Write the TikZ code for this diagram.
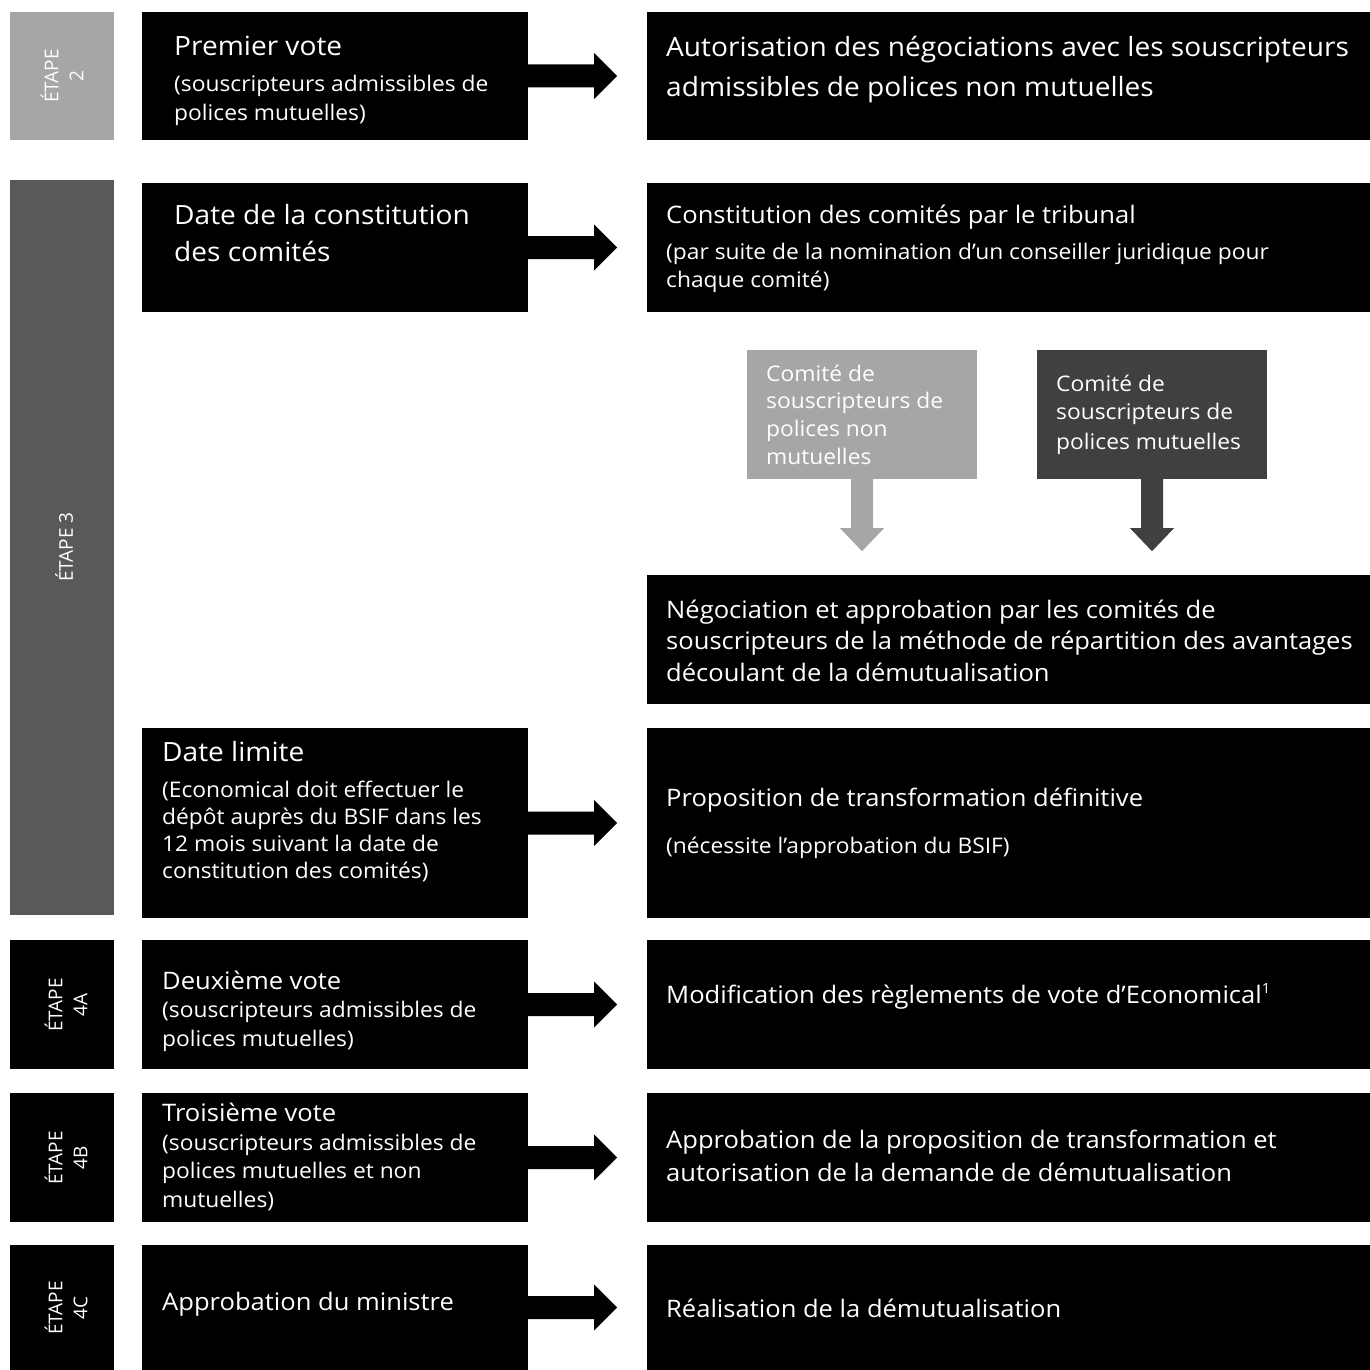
\documentclass[tikz,border=0pt]{standalone}
\usepackage{fontspec}
\setmainfont{Open Sans}
\newfontfamily\widefont[FakeStretch=1.06]{Open Sans}
\usetikzlibrary{calc}
\definecolor{lgray}{HTML}{A6A6A6}
\definecolor{mgray}{HTML}{595959}
\definecolor{dgray}{HTML}{404040}
\tikzset{
  box/.style={fill=black, draw=none, inner sep=0pt},
  lab/.style={text=white, inner sep=0pt, anchor=base west},
  T/.style={lab, font=\widefont\fontsize{26.5}{30}\selectfont},
  M/.style={lab, font=\widefont\fontsize{24.1}{28}\selectfont},
  S/.style={lab, font=\widefont\fontsize{21.5}{26}\selectfont},
  stage/.style={text=white, rotate=90, align=center, font=\fontsize{19}{25}\selectfont, inner sep=0pt},
}
\newcommand{\rarrow}[1]{\fill[black] ($(#1.east)+(0,11.5)$) -- ++(66,0) -- ++(0,11.5) -- ++(23,-23) -- ++(-23,-23) -- ++(0,11.5) -- ++(-66,0) -- cycle;}
\newcommand{\darrow}[2]{\fill[#2] ($(#1.south)+(-11,0)$) -- ++(0,49) -- ++(-11,0) -- ++(22,23) -- ++(22,-23) -- ++(-11,0) -- ++(0,-49) -- cycle;}
\begin{document}
\begin{tikzpicture}[x=1pt,y=-1pt]
\useasboundingbox (0,0) rectangle (1370,1370);
% stage labels
\fill[lgray] (10,12) rectangle (114,140);
\node[stage] (s2) at (62,76) {ÉTAPE\\2};
\fill[mgray] (10,180) rectangle (114,915);
\node[stage] (s3) at (64,547) {ÉTAPE 3};
\fill[black] (10,940) rectangle (114,1069);
\node[stage] (s4a) at (66,1005) {ÉTAPE\\4A};
\fill[black] (10,1093) rectangle (114,1222);
\node[stage] (s4b) at (66,1158) {ÉTAPE\\4B};
\fill[black] (10,1245) rectangle (114,1370);
\node[stage] (s4c) at (66,1308) {ÉTAPE\\4C};
% boxes
\node[box, minimum width=386pt, minimum height=128pt] (L1) at (335,76) {};
\node[box, minimum width=723pt, minimum height=128pt] (R1) at (1008.5,76) {};
\node[box, minimum width=386pt, minimum height=129pt] (L2) at (335,247.5) {};
\node[box, minimum width=723pt, minimum height=129pt] (R2) at (1008.5,247.5) {};
\node[box, fill=lgray, minimum width=230pt, minimum height=129pt] (C1) at (862,414.5) {};
\node[box, fill=dgray, minimum width=230pt, minimum height=129pt] (C2) at (1152,414.5) {};
\node[box, minimum width=723pt, minimum height=129pt] (R3) at (1008.5,639.5) {};
\node[box, minimum width=386pt, minimum height=190pt] (L4) at (335,823) {};
\node[box, minimum width=723pt, minimum height=190pt] (R4) at (1008.5,823) {};
\node[box, minimum width=386pt, minimum height=129pt] (L5) at (335,1004.5) {};
\node[box, minimum width=723pt, minimum height=129pt] (R5) at (1008.5,1004.5) {};
\node[box, minimum width=386pt, minimum height=129pt] (L6) at (335,1157.5) {};
\node[box, minimum width=723pt, minimum height=129pt] (R6) at (1008.5,1157.5) {};
\node[box, minimum width=386pt, minimum height=125pt] (L7) at (335,1307.5) {};
\node[box, minimum width=723pt, minimum height=125pt] (R7) at (1008.5,1307.5) {};
% arrows
\rarrow{L1}\rarrow{L2}\rarrow{L4}\rarrow{L5}\rarrow{L6}\rarrow{L7}
\darrow{C1}{lgray}\darrow{C2}{dgray}
% texts row 1
\node[T] (t1a) at (174,56) {Premier vote};
\node[S] (t1b) at (174,92) {(souscripteurs admissibles de};
\node[S] (t1c) at (174,121) {polices mutuelles)};
\node[T] (u1a) at (666,57) {Autorisation des négociations avec les souscripteurs};
\node[T] (u1b) at (666,97) {admissibles de polices non mutuelles};
% row 2
\node[T] (t2a) at (174,224) {Date de la constitution};
\node[T] (t2b) at (174,261) {des comités};
\node[M] (u2a) at (666,223) {Constitution des comités par le tribunal};
\node[S] (u2b) at (666,259) {(par suite de la nomination d’un conseiller juridique pour};
\node[S] (u2c) at (666,287) {chaque comité)};
% committees
\node[S] (c1a) at (766,381) {Comité de};
\node[S] (c1b) at (766,408) {souscripteurs de};
\node[S] (c1c) at (766,436) {polices non};
\node[S] (c1d) at (766,464) {mutuelles};
\node[S] (c2a) at (1056,391) {Comité de};
\node[S] (c2b) at (1056,419) {souscripteurs de};
\node[S] (c2c) at (1056,449) {polices mutuelles};
% negotiation
\node[M] (u3a) at (666,618) {Négociation et approbation par les comités de};
\node[M] (u3b) at (666,649) {souscripteurs de la méthode de répartition des avantages};
\node[M] (u3c) at (666,681) {découlant de la démutualisation};
% date limite
\node[T] (t4a) at (162,761) {Date limite};
\node[S] (t4b) at (162,797) {(Economical doit effectuer le};
\node[S] (t4c) at (162,824) {dépôt auprès du BSIF dans les};
\node[S] (t4d) at (162,851) {12 mois suivant la date de};
\node[S] (t4e) at (162,878) {constitution des comités)};
\node[M] (u4a) at (666,806) {Proposition de transformation définitive};
\node[S] (u4b) at (666,853) {(nécessite l’approbation du BSIF)};
% 4A
\node[M] (t5a) at (162,989) {Deuxième vote};
\node[S] (t5b) at (162,1017) {(souscripteurs admissibles de};
\node[S] (t5c) at (162,1046) {polices mutuelles)};
\node[M] (u5a) at (666,1003) {Modification des règlements de vote d’Economical\textsuperscript{\fontsize{14}{14}\selectfont 1}};
% 4B
\node[M] (t6a) at (162,1121) {Troisième vote};
\node[S] (t6b) at (162,1150) {(souscripteurs admissibles de};
\node[S] (t6c) at (162,1178) {polices mutuelles et non};
\node[S] (t6d) at (162,1207) {mutuelles)};
\node[M] (u6a) at (666,1148) {Approbation de la proposition de transformation et};
\node[M] (u6b) at (666,1181) {autorisation de la demande de démutualisation};
% 4C
\node[M] (t7a) at (162,1310) {Approbation du ministre};
\node[M] (u7a) at (666,1317) {Réalisation de la démutualisation};
\end{tikzpicture}
\end{document}
